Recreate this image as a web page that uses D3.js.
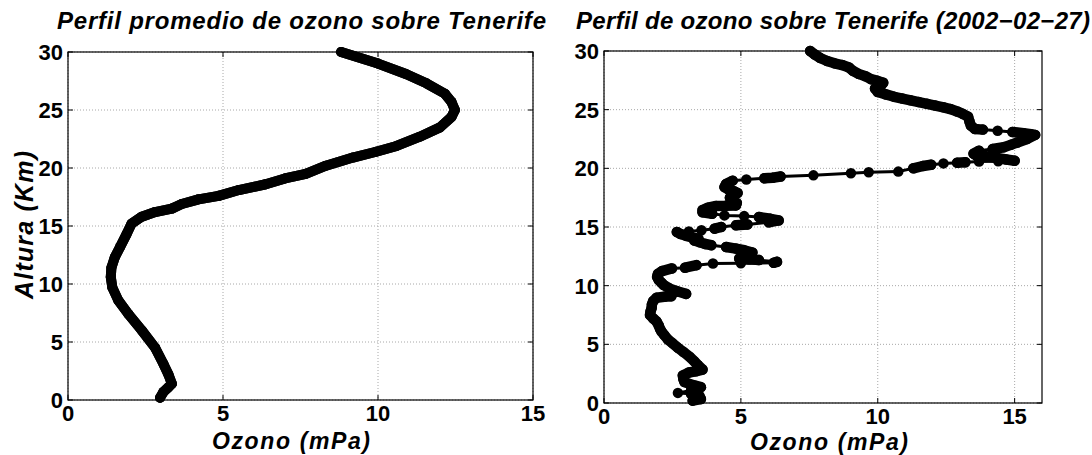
<!DOCTYPE html>
<html>
<head>
<meta charset="utf-8">
<script src="https://cdn.jsdelivr.net/npm/d3@7"></script>
<style>
  body { margin: 0; background: #fff; }
  svg { display: block; font-family: "Liberation Sans", Arial, Helvetica, sans-serif; }
</style>
</head>
<body>
<svg id="chart" width="1092" height="455"></svg>
<script>
// Tick values for both panels
const yTicks = [0, 5, 10, 15, 20, 25, 30];
const xTicksAvg = [0, 5, 10, 15];
const xTicksDay = [0, 5, 10, 15];

// Mean ozone profile (partial pressure in mPa vs altitude in km)
const avgOzone = [2.97, 3.08, 3.24, 3.35, 3.24, 3.08, 2.81, 2.38, 1.95, 1.62, 1.43, 1.38, 1.40, 1.51, 1.68, 1.89, 2.05, 2.38, 2.81,
  3.35, 3.67, 4.21, 4.86, 5.51, 6.38, 7.00, 7.67, 8.32, 9.19, 9.94, 10.60, 11.35, 12.00, 12.37, 12.48, 12.37, 12.16, 11.56, 10.90, 10.00, 8.81];
const avgAlt = [0.2, 0.7, 1.1, 1.4, 2.2, 3.1, 4.5, 6.0, 7.4, 8.6, 9.7, 10.6, 11.4, 12.3, 13.2, 14.3, 15.2, 15.8, 16.2,
  16.5, 16.9, 17.3, 17.6, 18.1, 18.6, 19.1, 19.5, 20.2, 20.9, 21.4, 21.9, 22.7, 23.5, 24.4, 25.0, 25.7, 26.4, 27.3, 28.1, 29.0, 30.0];

// Single sounding of 2002-02-27
const dayOzone = [3.24, 3.54, 3.48, 3.18, 2.70, 3.18, 3.54, 3.30, 2.94, 2.90, 2.88, 3.10, 3.35, 3.60, 3.42, 3.30, 3.12, 2.90, 2.70,
  2.50, 2.34, 2.20, 2.10, 2.05, 2.00, 1.92, 1.80, 1.68, 1.70, 1.74, 1.75, 1.80, 1.92, 2.20, 2.46, 3.00, 2.70, 2.40, 2.18, 2.10,
  2.00, 1.94, 1.97, 2.12, 2.48, 2.96, 3.38, 3.98, 5.00, 6.20, 6.32, 5.66, 5.30, 4.94, 5.10, 5.30, 5.42, 5.12, 4.82, 4.46, 3.92,
  3.70, 3.50, 3.30, 3.45, 3.25, 3.00, 2.80, 2.66, 3.10, 3.56, 4.04, 4.28, 4.82, 5.24, 6.02, 6.38, 6.08, 5.66, 5.12, 4.40, 3.95,
  3.60, 3.60, 3.80, 4.10, 4.45, 4.82, 4.85, 4.70, 4.60, 4.70, 4.88, 4.75, 4.55, 4.40, 4.46, 4.70, 5.20, 5.86, 6.16, 6.45, 7.65,
  9.02, 9.67, 10.75, 11.30, 11.65, 11.95, 12.40, 12.90, 13.20, 13.70, 14.40, 15.00, 14.70, 14.30, 13.90, 13.60, 13.50, 13.70,
  14.20, 14.60, 14.86, 15.10, 15.45, 15.75, 15.60, 15.33, 14.92, 14.38, 13.84, 13.55, 13.40, 13.35, 13.30, 13.10, 12.90, 12.65,
  12.40, 12.10, 11.80, 11.50, 11.20, 10.90, 10.60, 10.30, 10.00, 9.90, 10.10, 10.20, 10.00, 9.75, 9.55, 9.30, 9.10, 8.95, 8.70,
  8.42, 8.15, 7.90, 7.70, 7.53];
const dayAlt = [0.20, 0.34, 0.63, 0.78, 0.86, 1.06, 1.35, 1.50, 1.78, 2.05, 2.35, 2.60, 2.70, 2.85, 3.25, 3.55, 3.95, 4.35, 4.70,
  5.10, 5.40, 5.80, 6.10, 6.30, 6.60, 6.95, 7.20, 7.50, 7.80, 8.10, 8.40, 8.70, 8.97, 9.05, 9.10, 9.30, 9.50, 9.75, 10.06, 10.25,
  10.48, 10.75, 11.00, 11.24, 11.47, 11.53, 11.75, 11.89, 11.90, 11.95, 12.03, 12.18, 12.25, 12.32, 12.50, 12.65, 12.83, 13.02,
  13.16, 13.30, 13.45, 13.55, 13.70, 13.85, 14.00, 14.10, 14.25, 14.40, 14.58, 14.62, 14.72, 14.86, 15.00, 15.14, 15.22, 15.40,
  15.56, 15.70, 15.85, 15.93, 15.99, 16.13, 16.25, 16.45, 16.65, 16.80, 16.82, 16.84, 17.05, 17.25, 17.50, 17.70, 17.90, 18.05,
  18.20, 18.40, 18.67, 18.95, 19.05, 19.15, 19.20, 19.30, 19.40, 19.58, 19.66, 19.72, 20.00, 20.20, 20.30, 20.42, 20.48, 20.52,
  20.58, 20.60, 20.65, 20.75, 20.90, 21.05, 21.10, 21.25, 21.50, 21.65, 21.80, 22.00, 22.20, 22.50, 22.85, 22.90, 23.00, 23.10,
  23.20, 23.30, 23.35, 23.65, 24.00, 24.40, 24.65, 24.85, 25.05, 25.20, 25.35, 25.50, 25.65, 25.80, 25.95, 26.10, 26.30, 26.50,
  26.80, 27.00, 27.30, 27.45, 27.60, 27.85, 28.05, 28.30, 28.60, 28.80, 28.95, 29.15, 29.40, 29.70, 30.00];

const titleAvg = "Perfil promedio de ozono sobre Tenerife";
const titleDay = "Perfil de ozono sobre Tenerife (2002\u221202\u221227)";
const xLabel = "Ozono (mPa)";
const yLabel = "Altura (Km)";

const svg = d3.select("#chart");

function drawPanel(cfg) {
  const x = d3.scaleLinear().domain(cfg.xDomain).range([cfg.left, cfg.right]);
  const y = d3.scaleLinear().domain([0, 30]).range([cfg.bottom, cfg.top]);
  const g = svg.append("g");

  // dotted grid
  g.append("g").selectAll("line").data(cfg.xTicks).join("line")
    .attr("x1", d => x(d)).attr("x2", d => x(d))
    .attr("y1", cfg.top).attr("y2", cfg.bottom)
    .attr("stroke", "#a8a8a8").attr("stroke-width", 1).attr("stroke-dasharray", "1,2");
  g.append("g").selectAll("line").data(yTicks).join("line")
    .attr("x1", cfg.left).attr("x2", cfg.right)
    .attr("y1", d => y(d)).attr("y2", d => y(d))
    .attr("stroke", "#a8a8a8").attr("stroke-width", 1).attr("stroke-dasharray", "1,2");

  // data: points joined by a line, close neighbours merge into a thick trace
  const pts = cfg.xs.map((v, i) => [x(v), y(cfg.ys[i])]);
  const line = d3.line();
  g.append("path").attr("d", line(pts)).attr("fill", "none")
    .attr("stroke", "#000").attr("stroke-width", cfg.lineWidth)
    .attr("stroke-linejoin", "round").attr("stroke-linecap", "round");
  const runs = [];
  let cur = [pts[0]];
  for (let i = 1; i < pts.length; i++) {
    const dx = pts[i][0] - pts[i - 1][0], dy = pts[i][1] - pts[i - 1][1];
    if (Math.hypot(dx, dy) < cfg.mergeDist) cur.push(pts[i]);
    else { runs.push(cur); cur = [pts[i]]; }
  }
  runs.push(cur);
  g.append("g").selectAll("path").data(runs.filter(r => r.length > 1)).join("path")
    .attr("d", d => line(d)).attr("fill", "none")
    .attr("stroke", "#000").attr("stroke-width", cfg.markerSize)
    .attr("stroke-linejoin", "round").attr("stroke-linecap", "round");
  g.append("g").selectAll("circle").data(pts).join("circle")
    .attr("cx", d => d[0]).attr("cy", d => d[1]).attr("r", cfg.markerSize / 2)
    .attr("fill", "#000");

  // box
  g.append("rect").attr("x", cfg.left).attr("y", cfg.top)
    .attr("width", cfg.right - cfg.left).attr("height", cfg.bottom - cfg.top)
    .attr("fill", "none").attr("stroke", "#000").attr("stroke-width", 1.2);

  // inward ticks on all four sides
  const tl = 5;
  const tk = g.append("g").attr("stroke", "#000").attr("stroke-width", 1);
  cfg.xTicks.forEach(d => {
    tk.append("line").attr("x1", x(d)).attr("x2", x(d)).attr("y1", cfg.bottom).attr("y2", cfg.bottom - tl);
    tk.append("line").attr("x1", x(d)).attr("x2", x(d)).attr("y1", cfg.top).attr("y2", cfg.top + tl);
  });
  yTicks.forEach(d => {
    tk.append("line").attr("x1", cfg.left).attr("x2", cfg.left + tl).attr("y1", y(d)).attr("y2", y(d));
    tk.append("line").attr("x1", cfg.right).attr("x2", cfg.right - tl).attr("y1", y(d)).attr("y2", y(d));
  });

  // tick labels
  g.append("g").selectAll("text").data(cfg.xTicks).join("text")
    .attr("x", d => x(d)).attr("y", cfg.bottom + 21)
    .attr("text-anchor", "middle").attr("font-size", 22).attr("font-weight", "bold")
    .text(d => d);
  g.append("g").selectAll("text").data(yTicks).join("text")
    .attr("x", cfg.left - 5).attr("y", d => y(d) + 8)
    .attr("text-anchor", "end").attr("font-size", 22).attr("font-weight", "bold")
    .text(d => d);

  // title and axis label
  g.append("text").attr("x", cfg.titleX).attr("y", 29)
    .attr("font-size", 24).attr("font-weight", "bold").attr("font-style", "italic")
    .attr("textLength", cfg.titleW).attr("lengthAdjust", "spacing")
    .text(cfg.title);
  g.append("text").attr("x", cfg.xLabelX).attr("y", cfg.xLabelY)
    .attr("font-size", 23).attr("font-weight", "bold").attr("font-style", "italic")
    .attr("textLength", 158).attr("lengthAdjust", "spacing")
    .text(xLabel);
  return { x, y };
}

drawPanel({
  left: 68, right: 533, top: 52, bottom: 400, xDomain: [0, 15], xTicks: xTicksAvg,
  xs: avgOzone, ys: avgAlt, markerSize: 10, lineWidth: 10, mergeDist: Infinity,
  title: titleAvg, titleX: 57, titleW: 489, xLabelX: 212, xLabelY: 449
});
drawPanel({
  left: 604, right: 1042, top: 51, bottom: 403, xDomain: [0, 16], xTicks: xTicksDay,
  xs: dayOzone, ys: dayAlt, markerSize: 10.5, lineWidth: 3, mergeDist: 12,
  title: titleDay, titleX: 576, titleW: 514, xLabelX: 750, xLabelY: 450
});

// shared y-axis label on the left panel
svg.append("text")
  .attr("transform", "translate(33,225) rotate(-90)")
  .attr("text-anchor", "middle").attr("font-size", 25)
  .attr("font-weight", "bold").attr("font-style", "italic")
  .attr("textLength", 148).attr("lengthAdjust", "spacing")
  .text(yLabel);
</script>
</body>
</html>
